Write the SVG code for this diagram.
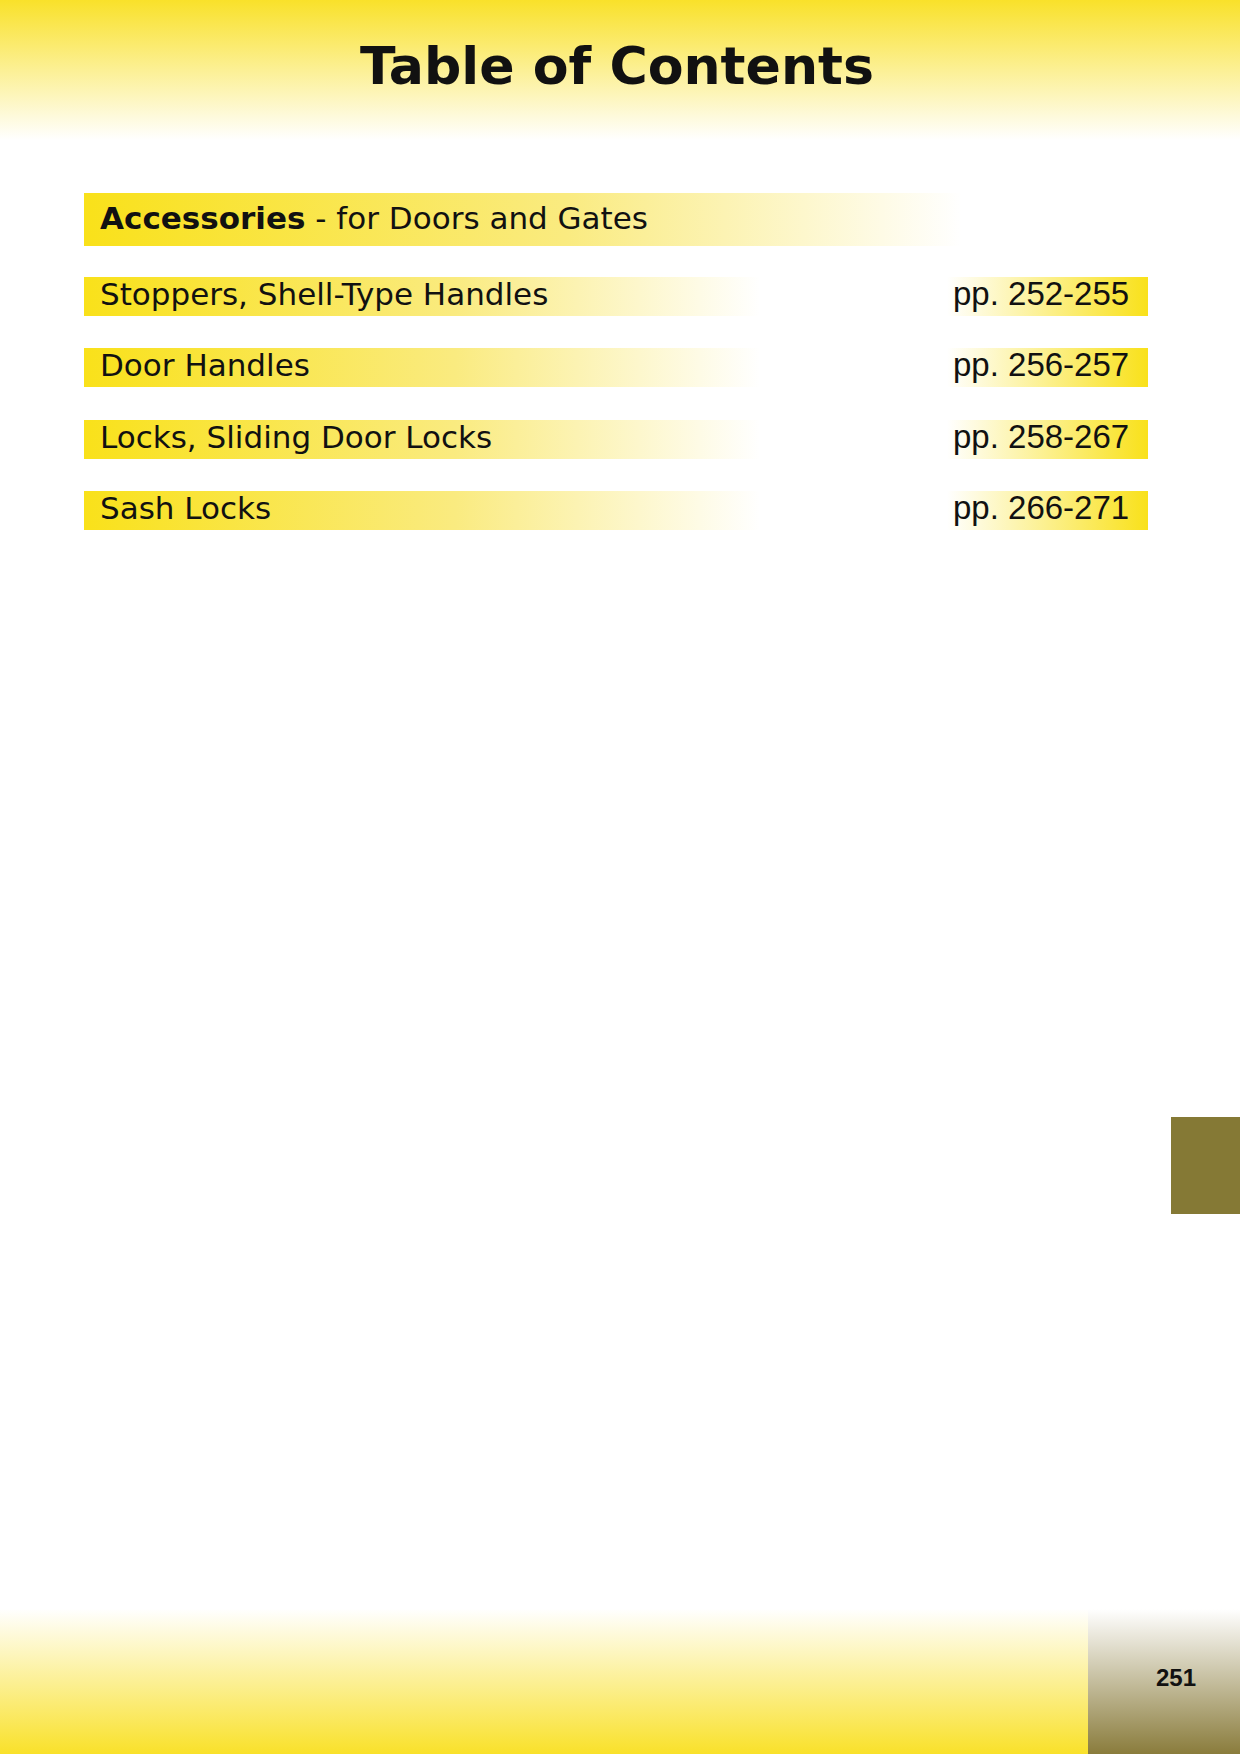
<svg xmlns="http://www.w3.org/2000/svg" width="1240" height="1754" viewBox="0 0 1240 1754">
<defs>
<linearGradient id="top" x1="0" y1="0" x2="0" y2="1"><stop offset="0" stop-color="#f9e12a"/><stop offset="1" stop-color="#ffffff"/></linearGradient>
<linearGradient id="bot" x1="0" y1="0" x2="0" y2="1"><stop offset="0" stop-color="#ffffff"/><stop offset="1" stop-color="#f9e12a"/></linearGradient>
<linearGradient id="olv" x1="0" y1="0" x2="0" y2="1"><stop offset="0" stop-color="#ffffff"/><stop offset="1" stop-color="#8a7c3c"/></linearGradient>
<linearGradient id="lr" x1="0" y1="0" x2="1" y2="0"><stop offset="0" stop-color="#f9e11a"/><stop offset="0.55" stop-color="#faeb80"/><stop offset="1" stop-color="#ffffff"/></linearGradient>
<linearGradient id="rl" x1="0" y1="0" x2="1" y2="0"><stop offset="0" stop-color="#ffffff"/><stop offset="1" stop-color="#f9e11a"/></linearGradient>
</defs>
<style>
.t{font-family:"DejaVu Sans",Verdana,sans-serif;font-size:31px;fill:#111}
.p{font-family:"Liberation Sans",Arial,sans-serif;font-size:33px;fill:#111}
</style>
<rect x="0" y="0" width="1240" height="1754" fill="#fff"/>
<rect x="0" y="0" width="1240" height="140" fill="url(#top)"/>
<text x="617" y="84" text-anchor="middle" font-family="'DejaVu Sans',sans-serif" font-weight="bold" font-size="52" textLength="514" lengthAdjust="spacingAndGlyphs" fill="#111">Table of Contents</text>
<g id="heading">
<rect x="84" y="193" width="877" height="53" fill="url(#lr)"/>
<text class="t" x="100" y="229" textLength="548" lengthAdjust="spacingAndGlyphs"><tspan font-weight="bold">Accessories</tspan> - for Doors and Gates</text>
</g>
<g id="row1"><rect x="84" y="277" width="676" height="39" fill="url(#lr)"/><text class="t" x="100" y="305">Stoppers, Shell-Type Handles</text>
<rect x="947" y="277" width="201" height="39" fill="url(#rl)"/><text class="p" x="953" y="305">pp. 252-255</text></g>
<g id="row2"><rect x="84" y="348" width="676" height="39" fill="url(#lr)"/><text class="t" x="100" y="376">Door Handles</text>
<rect x="947" y="348" width="201" height="39" fill="url(#rl)"/><text class="p" x="953" y="376">pp. 256-257</text></g>
<g id="row3"><rect x="84" y="420" width="676" height="39" fill="url(#lr)"/><text class="t" x="100" y="448">Locks, Sliding Door Locks</text>
<rect x="947" y="420" width="201" height="39" fill="url(#rl)"/><text class="p" x="953" y="448">pp. 258-267</text></g>
<g id="row4"><rect x="84" y="491" width="676" height="39" fill="url(#lr)"/><text class="t" x="100" y="519">Sash Locks</text>
<rect x="947" y="491" width="201" height="39" fill="url(#rl)"/><text class="p" x="953" y="519">pp. 266-271</text></g>
<rect x="1171" y="1117" width="69" height="97" fill="#857935"/>
<rect x="0" y="1609" width="1088" height="145" fill="url(#bot)"/>
<rect x="1088" y="1609" width="152" height="145" fill="url(#olv)"/>
<text x="1176" y="1686" text-anchor="middle" font-family="'Liberation Sans',Arial,sans-serif" font-weight="bold" font-size="24" fill="#111">251</text>
</svg>
